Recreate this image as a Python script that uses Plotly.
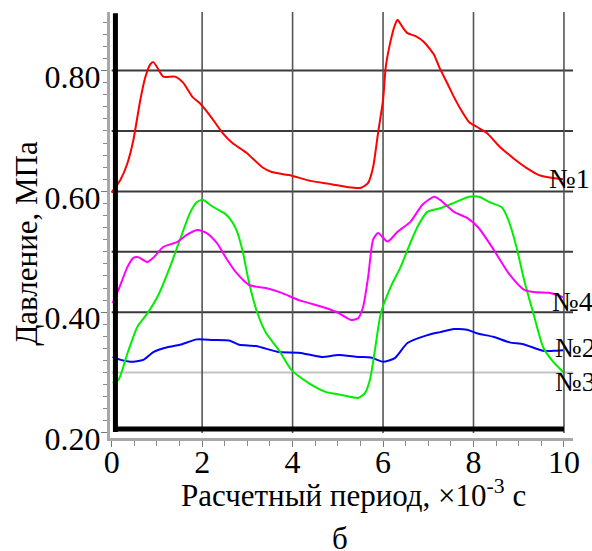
import plotly.graph_objects as go

# Calculation period, x10^-3 s
t_p1 = [0, 0.2, 0.35, 0.48, 0.63, 0.74, 0.85, 0.92, 1.0, 1.14, 1.40, 1.58, 1.79, 1.95, 2.17,
        2.45, 2.67, 2.98, 3.33, 3.54, 3.92, 4.42, 4.86, 5.23, 5.51, 5.67, 5.78, 5.89, 6.0,
        6.06, 6.17, 6.26, 6.32, 6.43, 6.54, 6.72, 6.91, 7.13, 7.24, 7.42, 7.57, 7.70, 7.90,
        8.07, 8.29, 8.58, 8.88, 9.17, 9.45, 9.76, 9.98]
p1 = [0.598, 0.62, 0.647, 0.685, 0.75, 0.788, 0.81, 0.814, 0.806, 0.79, 0.79, 0.78, 0.756,
      0.746, 0.726, 0.697, 0.68, 0.664, 0.64, 0.632, 0.627, 0.617, 0.612, 0.607, 0.606, 0.614,
      0.64, 0.697, 0.751, 0.806, 0.85, 0.875, 0.884, 0.872, 0.862, 0.857, 0.847, 0.826, 0.806,
      0.779, 0.756, 0.738, 0.715, 0.707, 0.697, 0.674, 0.655, 0.639, 0.627, 0.622, 0.62]

t_p2 = [0.02, 0.2, 0.42, 0.70, 0.92, 1.23, 1.51, 1.88, 2.23, 2.60, 2.82, 3.19, 3.70, 4.14,
        4.64, 5.01, 5.45, 5.73, 6.0, 6.26, 6.54, 6.98, 7.26, 7.57, 7.86, 8.07, 8.45, 8.80,
        9.10, 9.54, 9.76, 9.98]
p2 = [0.326, 0.321, 0.318, 0.321, 0.334, 0.342, 0.346, 0.355, 0.354, 0.353, 0.346, 0.344,
      0.334, 0.333, 0.326, 0.329, 0.326, 0.325, 0.318, 0.324, 0.349, 0.362, 0.367, 0.372,
      0.371, 0.365, 0.359, 0.35, 0.347, 0.336, 0.336, 0.337]

t_p3 = [0.02, 0.15, 0.35, 0.57, 0.79, 1.03, 1.29, 1.51, 1.73, 1.88, 2.01, 2.23, 2.49, 2.60,
        2.76, 2.89, 3.04, 3.22, 3.41, 3.70, 3.98, 4.35, 4.73, 5.08, 5.45, 5.60, 5.71, 5.82,
        5.95, 6.17, 6.39, 6.54, 6.76, 6.98, 7.26, 7.57, 7.90, 8.12, 8.36, 8.62, 8.77, 8.95,
        9.12, 9.32, 9.54, 9.76, 9.98]
p3 = [0.283, 0.288, 0.332, 0.376, 0.398, 0.428, 0.475, 0.52, 0.564, 0.582, 0.586, 0.575,
      0.564, 0.556, 0.536, 0.503, 0.448, 0.399, 0.366, 0.337, 0.304, 0.283, 0.268, 0.263,
      0.258, 0.266, 0.288, 0.337, 0.398, 0.442, 0.475, 0.503, 0.541, 0.566, 0.572, 0.581,
      0.591, 0.591, 0.582, 0.574, 0.553, 0.508, 0.453, 0.399, 0.342, 0.318, 0.301]

t_p4 = [0.02, 0.15, 0.35, 0.48, 0.59, 0.79, 0.92, 1.14, 1.44, 1.66, 1.90, 2.10, 2.32, 2.56,
        2.76, 3.04, 3.41, 3.76, 4.14, 4.73, 5.01, 5.30, 5.45, 5.56, 5.67, 5.78, 5.89, 6.10,
        6.32, 6.61, 6.87, 7.13, 7.26, 7.57, 7.86, 8.12, 8.45, 8.80, 9.12, 9.39, 9.67, 9.98]
p4 = [0.415, 0.437, 0.475, 0.49, 0.491, 0.483, 0.49, 0.508, 0.516, 0.528, 0.536, 0.531,
      0.515, 0.486, 0.465, 0.445, 0.44, 0.432, 0.42, 0.407, 0.399, 0.387, 0.39, 0.409,
      0.458, 0.52, 0.531, 0.517, 0.533, 0.55, 0.578, 0.591, 0.586, 0.566, 0.556, 0.539,
      0.503, 0.462, 0.437, 0.433, 0.432, 0.425]

series_names = ["№1", "№2", "№3", "№4"]
series_colors = ["#ff0000", "#0000ff", "#00ee00", "#ff00ff"]
label_pos = [(9.63, 0.621), (9.75, 0.341), (9.75, 0.285), (9.70, 0.4175)]

x_ticks = [0, 2, 4, 6, 8, 10]
y_ticks = [0.2, 0.4, 0.6, 0.8]
y_grid_dark = [0.4, 0.5, 0.6, 0.7, 0.8]
y_grid_light = [0.3]
x_grid = [2, 4, 6, 8, 10]

X_RANGE = [-0.037, 10.2]
Y_RANGE = [0.1917, 0.897]
FONT = "Liberation Serif"

fig = go.Figure()
for t, p, name, color in zip([t_p1, t_p2, t_p3, t_p4], [p1, p2, p3, p4],
                             series_names, series_colors):
    fig.add_trace(go.Scatter(x=t, y=p, mode="lines", name=name,
                             line=dict(color=color, width=2, shape="spline", smoothing=0.6),
                             showlegend=False))

shapes = []
for v in y_grid_dark:
    shapes.append(dict(type="line", xref="x", yref="y", x0=0, x1=X_RANGE[1], y0=v, y1=v,
                       line=dict(color="#3a3a3a", width=2), layer="below"))
for v in y_grid_light:
    shapes.append(dict(type="line", xref="x", yref="y", x0=0, x1=X_RANGE[1], y0=v, y1=v,
                       line=dict(color="#c4c4c4", width=2), layer="below"))
for v in x_grid:
    shapes.append(dict(type="line", xref="x", yref="y", x0=v, x1=v, y0=0.2, y1=Y_RANGE[1],
                       line=dict(color="#555555", width=1.6), layer="below"))
# heavy frame lines along the origin
shapes.append(dict(type="line", xref="x", yref="y", x0=0.083, x1=0.083, y0=0.2015,
                   y1=Y_RANGE[1] - 0.002, line=dict(color="black", width=5), layer="above"))
shapes.append(dict(type="line", xref="x", yref="y", x0=0.03, x1=10, y0=0.2065, y1=0.2065,
                   line=dict(color="black", width=5), layer="above"))

annotations = []
for name, (lx, ly) in zip(series_names, label_pos):
    annotations.append(dict(x=lx, y=ly, xref="x", yref="y", text=name, showarrow=False,
                            xanchor="left", yanchor="middle",
                            font=dict(family=FONT, size=28, color="black")))
# axis titles and panel letter
annotations.append(dict(x=0.526, y=-0.131, xref="paper", yref="paper",
                        text="Расчетный период, ×10<sup>-3</sup> с", showarrow=False,
                        xanchor="center", yanchor="middle",
                        font=dict(family=FONT, size=31, color="black")))
annotations.append(dict(x=-0.1795, y=0.458, xref="paper", yref="paper",
                        text="Давление, МПа", textangle=-90, showarrow=False,
                        xanchor="center", yanchor="middle",
                        font=dict(family=FONT, size=31, color="black")))
annotations.append(dict(x=0.497, y=-0.235, xref="paper", yref="paper", text="б",
                        showarrow=False, xanchor="center", yanchor="middle",
                        font=dict(family=FONT, size=31, color="black")))

fig.update_layout(
    width=592, height=551,
    margin=dict(l=110, r=14, t=12, b=113),
    paper_bgcolor="white", plot_bgcolor="white",
    font=dict(family=FONT, size=31, color="black"),
    shapes=shapes, annotations=annotations,
    xaxis=dict(range=X_RANGE, tickvals=x_ticks, showgrid=False, zeroline=False,
               showline=True, linecolor="#a8a8a8", linewidth=3,
               ticks="outside", ticklen=6, tickcolor="#777777",
               minor=dict(dtick=0.5, ticks="outside", ticklen=5, tickcolor="#888888"),
               tickfont=dict(family=FONT, size=32), ticklabelstandoff=-12),
    yaxis=dict(range=Y_RANGE, tickvals=y_ticks, tickformat=".2f", showgrid=False,
               zeroline=False, showline=True, linecolor="#a8a8a8", linewidth=3,
               ticks="outside", ticklen=6, tickcolor="#777777",
               minor=dict(dtick=0.02, ticks="outside", ticklen=4, tickcolor="#888888"),
               tickfont=dict(family=FONT, size=32), ticklabelshift=6,
               ticklabelstandoff=-6),
)

fig.write_html("out.html")
